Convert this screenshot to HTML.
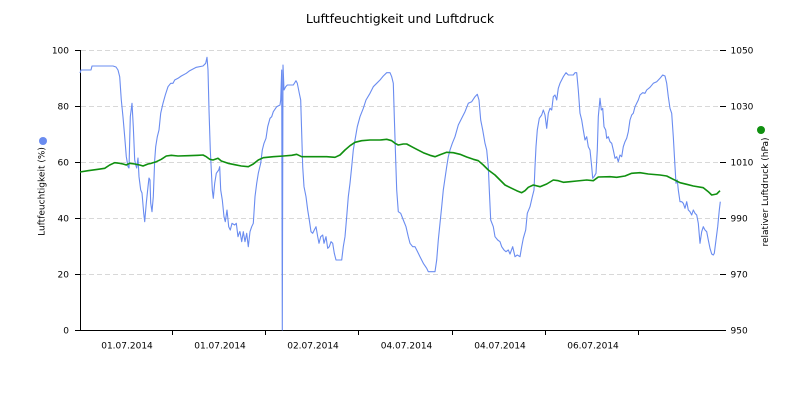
<!DOCTYPE html>
<html><head><meta charset="utf-8"><style>
html,body{margin:0;padding:0;background:#fff;}
svg{display:block;}
text{font-family:"DejaVu Sans","Liberation Sans",sans-serif;fill:#000;}
</style></head><body>
<svg width="800" height="400" viewBox="0 0 800 400" xmlns="http://www.w3.org/2000/svg">
<rect width="800" height="400" fill="#fff"/>
<text x="400" y="23" font-size="12.5" text-anchor="middle">Luftfeuchtigkeit und Luftdruck</text>
<g stroke="#d8d8d8" stroke-width="1" stroke-dasharray="5,3" shape-rendering="crispEdges">
<line x1="81" y1="50.5" x2="720" y2="50.5"/>
<line x1="81" y1="106.5" x2="720" y2="106.5"/>
<line x1="81" y1="162.5" x2="720" y2="162.5"/>
<line x1="81" y1="218.5" x2="720" y2="218.5"/>
<line x1="81" y1="274.5" x2="720" y2="274.5"/>
</g>
<g stroke="#000" stroke-width="1" shape-rendering="crispEdges">
<line x1="80.5" y1="50" x2="80.5" y2="330"/>
<line x1="80" y1="330.5" x2="722" y2="330.5"/>
<line x1="75" y1="50.5" x2="80" y2="50.5"/>
<line x1="75" y1="106.5" x2="80" y2="106.5"/>
<line x1="75" y1="162.5" x2="80" y2="162.5"/>
<line x1="75" y1="218.5" x2="80" y2="218.5"/>
<line x1="75" y1="274.5" x2="80" y2="274.5"/>
<line x1="75" y1="330.5" x2="80" y2="330.5"/>
<line x1="720" y1="50.5" x2="726" y2="50.5"/>
<line x1="720" y1="106.5" x2="726" y2="106.5"/>
<line x1="720" y1="162.5" x2="726" y2="162.5"/>
<line x1="720" y1="218.5" x2="726" y2="218.5"/>
<line x1="720" y1="274.5" x2="726" y2="274.5"/>
<line x1="720" y1="330.5" x2="726" y2="330.5"/>
<line x1="172.5" y1="330" x2="172.5" y2="335"/>
<line x1="265.5" y1="330" x2="265.5" y2="335"/>
<line x1="358.5" y1="330" x2="358.5" y2="335"/>
<line x1="452.5" y1="330" x2="452.5" y2="335"/>
<line x1="545.5" y1="330" x2="545.5" y2="335"/>
<line x1="638.5" y1="330" x2="638.5" y2="335"/>
</g>
<g font-size="9" text-anchor="end">
<text x="69" y="53.5">100</text>
<text x="69" y="109.5">80</text>
<text x="69" y="165.5">60</text>
<text x="69" y="221.5">40</text>
<text x="69" y="277.5">20</text>
<text x="69" y="333.5">0</text>
</g>
<g font-size="9" text-anchor="start">
<text x="730.5" y="53.5">1050</text>
<text x="730.5" y="109.5">1030</text>
<text x="730.5" y="165.5">1010</text>
<text x="730.5" y="221.5">990</text>
<text x="730.5" y="277.5">970</text>
<text x="730.5" y="333.5">950</text>
</g>
<g font-size="9" text-anchor="middle">
<text x="127" y="348.5">01.07.2014</text>
<text x="220" y="348.5">01.07.2014</text>
<text x="313" y="348.5">02.07.2014</text>
<text x="406.5" y="348.5">04.07.2014</text>
<text x="500" y="348.5">04.07.2014</text>
<text x="593" y="348.5">06.07.2014</text>
</g>
<circle cx="43" cy="141" r="4" fill="#6a8cf0"/>
<text font-size="9" text-anchor="middle" transform="translate(44.5,191.5) rotate(-90)">Luftfeuchtigkeit (%)</text>
<circle cx="761" cy="130" r="4" fill="#109010"/>
<text font-size="9" text-anchor="middle" transform="translate(768,192) rotate(-90)">relativer Luftdruck (hPa)</text>
<polyline fill="none" stroke="#6a8cf0" stroke-width="1.1" stroke-linejoin="round" points="80,73 81,70 91,70 92,66 113,66 116,67 118,70 119.7,76.7 121.3,100 123,117 124.7,136.7 126.3,156.7 128,166.7 129,168 130.3,116.7 132,103.3 133.3,126.7 134.7,160 135.7,165 136.7,168 138,158 139,176.7 140.7,190 142,193 143.7,213 144.7,221.7 146.3,203 148,186.7 149,178 150,180 150.7,203 152,211.7 153.3,196.7 154.7,160 155.7,146.7 157.3,136.7 159,130 160.7,113.3 163,103.3 165.3,95 168,86.7 170.7,83.3 173,83.3 174.7,80 178,78.3 181.3,76 186.3,73.3 189.7,70.7 196.3,67.3 203,66 205.7,63.3 207,57.3 208,70 209,110 210.3,150 211.3,170 212.3,190 213.3,198.3 214.7,183.3 216.3,173.3 218.7,170 219.7,166.7 220.7,190 222.3,200 224,216.7 225.3,221.7 227,210 228.7,226.7 230.3,230 232,223.3 234.7,225 236.3,223.3 238,236.7 239.7,231.7 240,231.7 241.7,241.7 243.3,231.7 245,241.7 246.7,233.3 248.3,246.7 250,231.7 251.7,226.7 253.3,223.3 255,196.7 256.7,183.3 258.3,173.3 260.7,163.3 262.3,150 264,143.3 266,138.3 267.7,126.7 270,118.3 271.7,116.7 273.3,111.7 276.7,106.7 280,105 280.7,100 281.7,70 282.3,330 283,65 284,90 285.7,86.7 287.3,85 293.3,85 296,80.7 297.3,83.3 299.3,93.3 300.7,100 301.7,133.3 302.7,166.7 304,186.7 306,196.7 307.7,210 309.3,220 311,231.7 312.7,233.3 314.3,230 316,226.7 317.7,236.7 319,243.3 320.7,236.7 322.7,235 324,243.3 326,236.7 327.7,248.3 329.3,246.7 331,241.7 332.7,243.3 334.3,253.3 336,260 341.7,260 343.3,246.7 345,236.7 346.7,216.7 348.3,196.7 350,183.3 351.7,166.7 353.3,150 355,140 357.3,126.7 360,116.7 363.3,108.3 366,100 370,93.3 373.3,86.7 376.7,83.3 380,80 383.3,76 386.7,72.7 390,72.7 391.7,76.7 393.3,83.3 394.3,116.7 395.7,160 396.7,190 398.3,211.7 400.7,213.3 403.3,220 406,226.7 408.3,236.7 410,243.3 412.7,246.7 415,246.7 416.7,250 420,256.7 423.3,263.3 426.7,268.3 428.3,271.7 435,271.7 436.7,260 438.3,240 440,223.3 441.7,206.7 443.3,190 445,178.3 446.7,166.7 448.3,156.7 450,150 452.3,143.3 455,136.7 458.3,125 461.7,118.3 465,111.7 468.3,103.3 471.7,101.7 475,96.7 477.3,94.3 479,100 480.7,120 482.7,130 485,143.3 486.7,150 488.3,166.7 489.3,190 490.7,220 493.3,226.7 495,236.7 497.7,240 500,241.7 501.7,246.7 504,250 506,251.7 508.3,250 510,254 512.7,246.7 515,256.7 517.3,255 520,256.7 521.7,246.7 523.3,238.3 525.7,230 527.3,213.3 530,206.7 532.3,196.7 534,190 535,166.7 536,146.7 537.3,130 539.3,118.3 541.7,115 543.3,110 545,115 546.7,128.3 548.3,113.3 550,108.3 551.7,110 553.3,96.7 555,95 556.7,100 558.3,88.3 560,83.3 563.3,76.7 566,72.7 568.3,75 573.3,75 575,72.7 576.7,72.7 578.3,90 580,113.3 581.7,120 583.3,130 585,140 586.7,136.7 588.3,146.7 590,150 591.7,166.7 592.7,178.3 594,176.7 596,173.3 597.3,150 598.3,116.7 600,98.3 601.3,110 602.7,108.3 604,126.7 605.7,130 606.7,138.3 608.3,136.7 610,141.7 611.7,143.3 613.3,150 615,158.3 616.7,156.7 618.3,161.7 620,155 621.7,156.7 623.3,146.7 625,141.7 626.7,138.3 628.3,131.7 630,120 631.7,115 633.3,113.3 635,106.7 636.7,103.3 638.3,100 640,95 642.7,92.7 645,93.3 646.7,90 650,87.3 653.3,83.3 656.7,81.7 660,78.3 662.7,75 665,76 666.7,83.3 668.3,96.7 670,108.3 671.7,113.3 673.3,136.7 675,166.7 676,183.3 677.3,180 678.3,190 680,201.7 681.7,201.7 683.3,203.3 685,208.3 686.7,201.7 688.3,210 690,211.7 691.7,215 693.3,210 695,213.3 696.7,215 698.3,223.3 700,243.3 701.7,231.7 703.3,226.7 705,230 706.7,231.7 708.3,240 710,248.3 711.7,254 713.3,255 714.3,253.3 716,240 717.7,226.7 719.3,210 720.3,201.7"/>
<polyline fill="none" stroke="#109010" stroke-width="1.6" stroke-linejoin="round" points="80,172 88,170.7 98,169.3 104.7,168.3 109.7,165 114.7,162.7 119.7,163.3 123,164 126.3,165 129.7,163.3 134.7,164 139.7,165 143,166 148,164 151.3,163.3 156.3,161.7 161.3,159.3 166.3,156 171.3,155.3 178,156 188,155.7 198,155.3 203,155 206.3,156.7 209.7,159.3 213,160 218,158.3 221.3,161 228,163.3 234.7,164.7 241.3,166 248.3,166.7 253.3,164 258.3,160 263.3,157.7 273.3,156.7 283.3,156 291.7,155.3 296.7,154.3 301.7,156.7 313.3,156.7 326.7,156.7 335,157.3 340,155 345,150 350,145.7 355,142.3 361.7,140.7 370,140 380,140 386.7,139.3 391.7,140.7 395,143.3 398.3,145 403.3,144 406.7,144 411.7,146.7 416.7,149.3 423.3,152.7 430,155.3 435,156.7 440,154.7 446.7,152.3 453.3,152.7 460,154.3 466.7,157 473.3,159.3 478.3,160.7 483.3,165 488.3,170 495,175 500,180 505,185 511.7,188.3 516.7,190.7 521.7,192.7 525,190.7 528.3,187.3 533.3,185 540,186.7 546.7,184 553.3,180 558.3,180.7 563.3,182.3 570,181.7 576.7,181 586.7,180 593.3,180.7 598.3,177 610,176.7 616.7,177.3 625,176 631.7,173.3 640,172.7 648.3,174 660,175 666.7,176 673.3,179.3 680,182.7 686.7,184.3 693.3,186 703.3,187.7 708.3,191.7 711.7,195 716.7,194 720,190.7"/>
</svg>
</body></html>
